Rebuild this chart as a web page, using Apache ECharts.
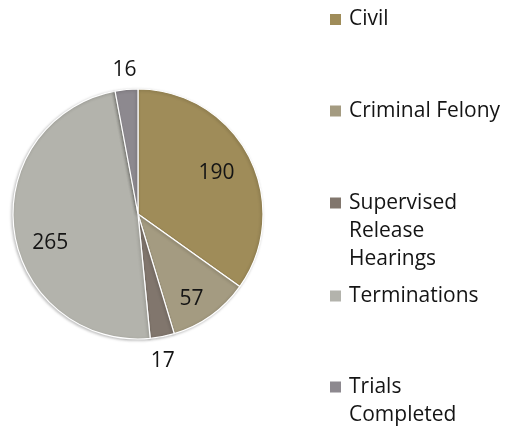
<!DOCTYPE html>
<html>
<head>
<meta charset="utf-8">
<script src="https://cdn.jsdelivr.net/npm/echarts@6/dist/echarts.min.js"></script>
<style>
html,body{margin:0;padding:0;background:#fff;}
#chart{width:505px;height:430px;}
</style>
</head>
<body>
<div id="chart"></div>
<script>
const categories = ['Civil', 'Criminal Felony', 'Supervised Release Hearings', 'Terminations', 'Trials Completed'];
const values = [190, 57, 17, 265, 16];
const legendLabels = ['Civil', 'Criminal Felony', 'Supervised\nRelease\nHearings', 'Terminations', 'Trials\nCompleted'];
const colors = ['#9F8C59', '#A49B81', '#81766D', '#B3B3AC', '#8D898F'];
const outsideLabel = [false, false, true, false, true];

const CX = 138, CY = 214, R = 125;
const LINE_H = 28;
const iconCenters = [19.5, 111, 203, 296, 387];
const labelNudge = [[-3, 1], [0, 10], [-4, 2], [3, 16], [0, 3]];
const FONT = '"Open Sans", sans-serif';

const chart = echarts.init(document.getElementById('chart'), null, {renderer: 'canvas'});

const legends = categories.map((name, i) => {
  const lines = legendLabels[i].split('\n');
  const n = lines.length;
  const text = '\n'.repeat(n - 1) + legendLabels[i];
  const total = (2 * n - 1) * LINE_H;
  return {
    data: [name],
    orient: 'vertical',
    left: 330,
    top: iconCenters[i] - total / 2,
    padding: 0,
    icon: 'rect',
    itemWidth: 11,
    itemHeight: 11,
    itemStyle: {borderWidth: 0, shadowBlur: 0, shadowOffsetX: 0, shadowOffsetY: 0},
    selectedMode: false,
    formatter: () => text,
    textStyle: {
      fontFamily: FONT,
      fontSize: 21,
      color: '#141414',
      lineHeight: LINE_H,
      padding: [0, 0, 0, 3]
    }
  };
});

const mainData = categories.map((name, i) => ({
  name, value: values[i], itemStyle: {color: colors[i]}
}));

const labelStyle = {
  color: '#141414',
  fontFamily: FONT,
  fontSize: 21
};

const insideData = categories.map((name, i) => ({
  name, value: values[i],
  label: Object.assign({show: !outsideLabel[i], position: 'inside', formatter: '{c}'}, labelStyle)
}));
const outsideData = categories.map((name, i) => ({
  name, value: values[i],
  label: Object.assign({show: outsideLabel[i], position: 'inside', formatter: '{c}'}, labelStyle)
}));

const nudge = (p) => ({dx: labelNudge[p.dataIndex][0], dy: labelNudge[p.dataIndex][1]});

chart.setOption({
  animation: false,
  legend: legends,
  series: [
    {
      name: 'main',
      type: 'pie',
      center: [CX, CY],
      radius: [0, R],
      startAngle: 90,
      clockwise: true,
      label: {show: false},
      labelLine: {show: false},
      itemStyle: {
        borderColor: '#ffffff',
        borderWidth: 1.2,
        shadowBlur: 3,
        shadowColor: 'rgba(0,0,0,0.25)',
        shadowOffsetX: -1,
        shadowOffsetY: 1
      },
      emphasis: {disabled: true},
      data: mainData
    },
    {
      name: 'labelsInside',
      type: 'pie',
      center: [CX, CY],
      radius: [0, R * 1.42],
      startAngle: 90,
      clockwise: true,
      silent: true,
      z: 5,
      itemStyle: {color: 'rgba(0,0,0,0)', borderWidth: 0},
      labelLine: {show: false},
      labelLayout: nudge,
      emphasis: {disabled: true},
      data: insideData
    },
    {
      name: 'labelsOutside',
      type: 'pie',
      center: [CX, CY],
      radius: [R * 1.03, R * 1.28],
      startAngle: 90,
      clockwise: true,
      silent: true,
      z: 5,
      itemStyle: {color: 'rgba(0,0,0,0)', borderWidth: 0},
      labelLine: {show: false},
      labelLayout: nudge,
      emphasis: {disabled: true},
      data: outsideData
    }
  ]
});
</script>
</body>
</html>
